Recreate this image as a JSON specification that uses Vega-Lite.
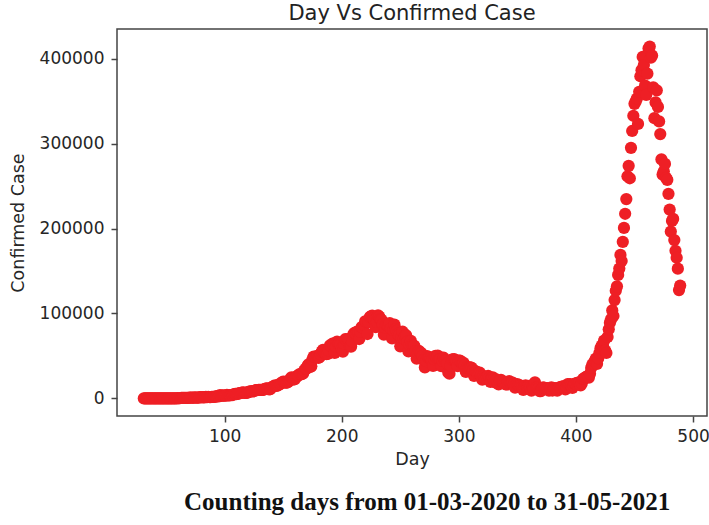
{
  "$schema": "https://vega.github.io/schema/vega-lite/v6.json",
  "padding": {"left": 8, "top": 2, "right": 0, "bottom": 0},
  "background": "white",
  "title": {"text": "Counting days from 01-03-2020 to 31-05-2021", "orient": "bottom", "font": "Liberation Serif", "fontSize": 25, "fontWeight": "bold", "color": "#111111", "anchor": "middle", "dx": 68, "offset": 22},
  "config": {
    "view": {"stroke": "#444444", "strokeWidth": 1.5},
    "axis": {"grid": false, "domain": false, "ticks": true, "tickSize": 6, "tickWidth": 1.5, "tickColor": "#444444", "labelFont": "DejaVu Sans", "labelFontSize": 17, "labelColor": "#262626", "labelFlush": false, "titleFont": "DejaVu Sans", "titleFontSize": 17.5, "titleFontWeight": "normal", "titleColor": "#262626"},
    "axisX": {"labelPadding": 6, "titlePadding": 6},
    "axisY": {"labelPadding": 7, "titlePadding": 12}
  },
  "vconcat": [{
    "width": 590,
    "height": 387,
    "title": {"text": "Day Vs Confirmed Case", "font": "DejaVu Sans", "fontSize": 21, "fontWeight": "normal", "color": "#222222", "offset": 5},
    "data": {"values": [
{"Day":31,"Cases":0},{"Day":32,"Cases":2},{"Day":33,"Cases":1},{"Day":34,"Cases":22},{"Day":35,"Cases":1},{"Day":36,"Cases":2},{"Day":37,"Cases":3},{"Day":38,"Cases":5},{"Day":39,"Cases":4},{"Day":40,"Cases":15},{"Day":41,"Cases":10},{"Day":42,"Cases":11},{"Day":43,"Cases":9},{"Day":44,"Cases":20},{"Day":45,"Cases":11},{"Day":46,"Cases":23},{"Day":47,"Cases":15},{"Day":48,"Cases":28},{"Day":49,"Cases":59},{"Day":50,"Cases":52},{"Day":51,"Cases":80},{"Day":52,"Cases":67},{"Day":53,"Cases":103},{"Day":54,"Cases":37},{"Day":55,"Cases":121},{"Day":56,"Cases":70},{"Day":57,"Cases":160},{"Day":58,"Cases":100},{"Day":59,"Cases":65},{"Day":60,"Cases":227},{"Day":61,"Cases":146},
{"Day":62,"Cases":437},{"Day":63,"Cases":486},{"Day":64,"Cases":560},{"Day":65,"Cases":579},{"Day":66,"Cases":609},{"Day":67,"Cases":484},{"Day":68,"Cases":573},{"Day":69,"Cases":565},{"Day":70,"Cases":813},{"Day":71,"Cases":871},{"Day":72,"Cases":854},{"Day":73,"Cases":758},{"Day":74,"Cases":1243},{"Day":75,"Cases":1031},{"Day":76,"Cases":886},{"Day":77,"Cases":1061},{"Day":78,"Cases":922},{"Day":79,"Cases":1371},{"Day":80,"Cases":1580},{"Day":81,"Cases":1239},{"Day":82,"Cases":1537},{"Day":83,"Cases":1292},{"Day":84,"Cases":1667},{"Day":85,"Cases":1408},{"Day":86,"Cases":1835},{"Day":87,"Cases":1607},{"Day":88,"Cases":1568},{"Day":89,"Cases":1902},{"Day":90,"Cases":1705},{"Day":91,"Cases":1801},
{"Day":92,"Cases":1993},{"Day":93,"Cases":2293},{"Day":94,"Cases":2644},{"Day":95,"Cases":2487},{"Day":96,"Cases":3900},{"Day":97,"Cases":2958},{"Day":98,"Cases":3561},{"Day":99,"Cases":3390},{"Day":100,"Cases":3320},{"Day":101,"Cases":3277},{"Day":102,"Cases":4213},{"Day":103,"Cases":3604},{"Day":104,"Cases":3525},{"Day":105,"Cases":3722},{"Day":106,"Cases":3967},{"Day":107,"Cases":3970},{"Day":108,"Cases":4987},{"Day":109,"Cases":5242},{"Day":110,"Cases":4970},{"Day":111,"Cases":5611},{"Day":112,"Cases":5609},{"Day":113,"Cases":6088},{"Day":114,"Cases":6654},{"Day":115,"Cases":6767},{"Day":116,"Cases":6977},{"Day":117,"Cases":6535},{"Day":118,"Cases":6387},{"Day":119,"Cases":6566},{"Day":120,"Cases":7466},{"Day":121,"Cases":7964},{"Day":122,"Cases":8380},
{"Day":123,"Cases":8392},{"Day":124,"Cases":8171},{"Day":125,"Cases":8909},{"Day":126,"Cases":9304},{"Day":127,"Cases":9851},{"Day":128,"Cases":9887},{"Day":129,"Cases":9971},{"Day":130,"Cases":9983},{"Day":131,"Cases":9987},{"Day":132,"Cases":9985},{"Day":133,"Cases":9996},{"Day":134,"Cases":10956},{"Day":135,"Cases":11458},{"Day":136,"Cases":11929},{"Day":137,"Cases":11502},{"Day":138,"Cases":10667},{"Day":139,"Cases":10974},{"Day":140,"Cases":12881},{"Day":141,"Cases":13586},{"Day":142,"Cases":14516},{"Day":143,"Cases":15413},{"Day":144,"Cases":14821},{"Day":145,"Cases":14933},{"Day":146,"Cases":15968},{"Day":147,"Cases":16922},{"Day":148,"Cases":17296},{"Day":149,"Cases":18552},{"Day":150,"Cases":19906},{"Day":151,"Cases":19459},{"Day":152,"Cases":18522},
{"Day":153,"Cases":18653},{"Day":154,"Cases":19148},{"Day":155,"Cases":20903},{"Day":156,"Cases":22771},{"Day":157,"Cases":24850},{"Day":158,"Cases":24248},{"Day":159,"Cases":22252},{"Day":160,"Cases":22752},{"Day":161,"Cases":24879},{"Day":162,"Cases":26506},{"Day":163,"Cases":27114},{"Day":164,"Cases":28637},{"Day":165,"Cases":28701},{"Day":166,"Cases":28498},{"Day":167,"Cases":29429},{"Day":168,"Cases":32695},{"Day":169,"Cases":34956},{"Day":170,"Cases":34884},{"Day":171,"Cases":38902},{"Day":172,"Cases":40425},{"Day":173,"Cases":37148},{"Day":174,"Cases":37724},{"Day":175,"Cases":45720},{"Day":176,"Cases":49310},{"Day":177,"Cases":48916},{"Day":178,"Cases":48661},{"Day":179,"Cases":49931},{"Day":180,"Cases":47704},{"Day":181,"Cases":48513},{"Day":182,"Cases":52123},{"Day":183,"Cases":55078},
{"Day":184,"Cases":57118},{"Day":185,"Cases":54735},{"Day":186,"Cases":52972},{"Day":187,"Cases":52050},{"Day":188,"Cases":52509},{"Day":189,"Cases":56282},{"Day":190,"Cases":62538},{"Day":191,"Cases":61537},{"Day":192,"Cases":64399},{"Day":193,"Cases":62064},{"Day":194,"Cases":53601},{"Day":195,"Cases":60963},{"Day":196,"Cases":66999},{"Day":197,"Cases":64553},{"Day":198,"Cases":65002},{"Day":199,"Cases":63490},{"Day":200,"Cases":57981},{"Day":201,"Cases":55079},{"Day":202,"Cases":64531},{"Day":203,"Cases":69652},{"Day":204,"Cases":68898},{"Day":205,"Cases":69878},{"Day":206,"Cases":69239},{"Day":207,"Cases":61408},{"Day":208,"Cases":60975},{"Day":209,"Cases":67151},{"Day":210,"Cases":75760},{"Day":211,"Cases":77266},{"Day":212,"Cases":76472},{"Day":213,"Cases":78761},{"Day":214,"Cases":78512},
{"Day":215,"Cases":69921},{"Day":216,"Cases":78357},{"Day":217,"Cases":83883},{"Day":218,"Cases":83341},{"Day":219,"Cases":86432},{"Day":220,"Cases":90632},{"Day":221,"Cases":90802},{"Day":222,"Cases":75809},{"Day":223,"Cases":89706},{"Day":224,"Cases":95735},{"Day":225,"Cases":96551},{"Day":226,"Cases":97570},{"Day":227,"Cases":94372},{"Day":228,"Cases":92071},{"Day":229,"Cases":83809},{"Day":230,"Cases":90123},{"Day":231,"Cases":97894},{"Day":232,"Cases":96424},{"Day":233,"Cases":93337},{"Day":234,"Cases":92605},{"Day":235,"Cases":86961},{"Day":236,"Cases":75083},{"Day":237,"Cases":83347},{"Day":238,"Cases":86508},{"Day":239,"Cases":86052},{"Day":240,"Cases":85362},{"Day":241,"Cases":88600},{"Day":242,"Cases":82170},{"Day":243,"Cases":70589},{"Day":244,"Cases":80472},
{"Day":245,"Cases":86821},{"Day":246,"Cases":81484},{"Day":247,"Cases":79476},{"Day":248,"Cases":75829},{"Day":249,"Cases":74442},{"Day":250,"Cases":61267},{"Day":251,"Cases":72049},{"Day":252,"Cases":78524},{"Day":253,"Cases":70496},{"Day":254,"Cases":73272},{"Day":255,"Cases":74383},{"Day":256,"Cases":66732},{"Day":257,"Cases":55342},{"Day":258,"Cases":63509},{"Day":259,"Cases":67708},{"Day":260,"Cases":63371},{"Day":261,"Cases":62212},{"Day":262,"Cases":61871},{"Day":263,"Cases":55722},{"Day":264,"Cases":46790},{"Day":265,"Cases":54044},{"Day":266,"Cases":55839},{"Day":267,"Cases":54366},{"Day":268,"Cases":53370},{"Day":269,"Cases":50129},{"Day":270,"Cases":45149},{"Day":271,"Cases":36469},{"Day":272,"Cases":43893},{"Day":273,"Cases":49881},{"Day":274,"Cases":48648},{"Day":275,"Cases":48268},
{"Day":276,"Cases":46963},{"Day":277,"Cases":45231},{"Day":278,"Cases":38310},{"Day":279,"Cases":46253},{"Day":280,"Cases":50209},{"Day":281,"Cases":47638},{"Day":282,"Cases":50357},{"Day":283,"Cases":45674},{"Day":284,"Cases":45903},{"Day":285,"Cases":38074},{"Day":286,"Cases":44281},{"Day":287,"Cases":47905},{"Day":288,"Cases":44879},{"Day":289,"Cases":44684},{"Day":290,"Cases":41100},{"Day":291,"Cases":30548},{"Day":292,"Cases":29164},{"Day":293,"Cases":38617},{"Day":294,"Cases":45576},{"Day":295,"Cases":45882},{"Day":296,"Cases":46232},{"Day":297,"Cases":45209},{"Day":298,"Cases":44059},{"Day":299,"Cases":37975},{"Day":300,"Cases":44376},{"Day":301,"Cases":44489},{"Day":302,"Cases":43082},{"Day":303,"Cases":41322},{"Day":304,"Cases":41810},{"Day":305,"Cases":38772},
{"Day":306,"Cases":31118},{"Day":307,"Cases":36604},{"Day":308,"Cases":35551},{"Day":309,"Cases":36595},{"Day":310,"Cases":36652},{"Day":311,"Cases":36011},{"Day":312,"Cases":32981},{"Day":313,"Cases":26567},{"Day":314,"Cases":32080},{"Day":315,"Cases":31522},{"Day":316,"Cases":29398},{"Day":317,"Cases":30006},{"Day":318,"Cases":30254},{"Day":319,"Cases":27071},{"Day":320,"Cases":22065},{"Day":321,"Cases":26382},{"Day":322,"Cases":24010},{"Day":323,"Cases":22890},{"Day":324,"Cases":25153},{"Day":325,"Cases":26624},{"Day":326,"Cases":24337},{"Day":327,"Cases":19556},{"Day":328,"Cases":23950},{"Day":329,"Cases":24712},{"Day":330,"Cases":23068},{"Day":331,"Cases":18732},{"Day":332,"Cases":22273},{"Day":333,"Cases":18732},{"Day":334,"Cases":16432},{"Day":335,"Cases":20550},{"Day":336,"Cases":21822},
{"Day":337,"Cases":20035},{"Day":338,"Cases":19079},{"Day":339,"Cases":18177},{"Day":340,"Cases":16504},{"Day":341,"Cases":16375},{"Day":342,"Cases":18088},{"Day":343,"Cases":20346},{"Day":344,"Cases":18139},{"Day":345,"Cases":18222},{"Day":346,"Cases":18645},{"Day":347,"Cases":16311},{"Day":348,"Cases":12584},{"Day":349,"Cases":15968},{"Day":350,"Cases":16946},{"Day":351,"Cases":15590},{"Day":352,"Cases":15158},{"Day":353,"Cases":15144},{"Day":354,"Cases":13788},{"Day":355,"Cases":10064},{"Day":356,"Cases":13823},{"Day":357,"Cases":15223},{"Day":358,"Cases":14545},{"Day":359,"Cases":14256},{"Day":360,"Cases":14849},{"Day":361,"Cases":13203},{"Day":362,"Cases":9102},{"Day":363,"Cases":12689},{"Day":364,"Cases":11666},{"Day":365,"Cases":18855},{"Day":366,"Cases":13083},{"Day":367,"Cases":13052},
{"Day":368,"Cases":11427},{"Day":369,"Cases":8635},{"Day":370,"Cases":8635},{"Day":371,"Cases":11039},{"Day":372,"Cases":12899},{"Day":373,"Cases":12408},{"Day":374,"Cases":11713},{"Day":375,"Cases":12059},{"Day":376,"Cases":11831},{"Day":377,"Cases":9110},{"Day":378,"Cases":11067},{"Day":379,"Cases":12923},{"Day":380,"Cases":9309},{"Day":381,"Cases":12143},{"Day":382,"Cases":12194},{"Day":383,"Cases":11649},{"Day":384,"Cases":9121},{"Day":385,"Cases":11610},{"Day":386,"Cases":12881},{"Day":387,"Cases":13193},{"Day":388,"Cases":13993},{"Day":389,"Cases":14264},{"Day":390,"Cases":14199},{"Day":391,"Cases":10584},{"Day":392,"Cases":13742},{"Day":393,"Cases":16738},{"Day":394,"Cases":16577},{"Day":395,"Cases":16752},
{"Day":396,"Cases":15510},{"Day":397,"Cases":12286},{"Day":398,"Cases":14989},{"Day":399,"Cases":17407},{"Day":400,"Cases":16838},{"Day":401,"Cases":18327},{"Day":402,"Cases":18711},{"Day":403,"Cases":18599},{"Day":404,"Cases":15388},{"Day":405,"Cases":17921},{"Day":406,"Cases":22854},{"Day":407,"Cases":23285},{"Day":408,"Cases":24882},{"Day":409,"Cases":25320},{"Day":410,"Cases":26291},{"Day":411,"Cases":24492},{"Day":412,"Cases":28903},{"Day":413,"Cases":35871},{"Day":414,"Cases":39726},{"Day":415,"Cases":40953},{"Day":416,"Cases":43846},{"Day":417,"Cases":46951},{"Day":418,"Cases":40715},{"Day":419,"Cases":47262},{"Day":420,"Cases":53476},{"Day":421,"Cases":59118},{"Day":422,"Cases":62258},{"Day":423,"Cases":62714},{"Day":424,"Cases":68020},{"Day":425,"Cases":56211},{"Day":426,"Cases":53480},
{"Day":427,"Cases":72330},{"Day":428,"Cases":81466},{"Day":429,"Cases":89129},{"Day":430,"Cases":93249},{"Day":431,"Cases":103558},{"Day":432,"Cases":96982},{"Day":433,"Cases":115736},{"Day":434,"Cases":126789},{"Day":435,"Cases":131968},{"Day":436,"Cases":145384},{"Day":437,"Cases":152879},{"Day":438,"Cases":168912},{"Day":439,"Cases":161736},{"Day":440,"Cases":184372},{"Day":441,"Cases":200739},{"Day":442,"Cases":217353},{"Day":443,"Cases":234692},{"Day":444,"Cases":261500},{"Day":445,"Cases":273810},{"Day":446,"Cases":259170},{"Day":447,"Cases":295041},{"Day":448,"Cases":314835},{"Day":449,"Cases":332730},{"Day":450,"Cases":346786},{"Day":451,"Cases":349691},{"Day":452,"Cases":352991},{"Day":453,"Cases":323144},{"Day":454,"Cases":360960},{"Day":455,"Cases":379257},{"Day":456,"Cases":386452},
{"Day":457,"Cases":401993},{"Day":458,"Cases":392488},{"Day":459,"Cases":368147},{"Day":460,"Cases":357229},{"Day":461,"Cases":382315},{"Day":462,"Cases":412262},{"Day":463,"Cases":414188},{"Day":464,"Cases":401078},{"Day":465,"Cases":403738},{"Day":466,"Cases":366161},{"Day":467,"Cases":329942},{"Day":468,"Cases":348421},{"Day":469,"Cases":362727},{"Day":470,"Cases":343144},{"Day":471,"Cases":326098},{"Day":472,"Cases":311170},{"Day":473,"Cases":281386},{"Day":474,"Cases":263533},{"Day":475,"Cases":267334},{"Day":476,"Cases":276070},{"Day":477,"Cases":259551},{"Day":478,"Cases":257299},{"Day":479,"Cases":240842},{"Day":480,"Cases":222315},{"Day":481,"Cases":196427},{"Day":482,"Cases":208921},{"Day":483,"Cases":211298},{"Day":484,"Cases":186364},{"Day":485,"Cases":173790},{"Day":486,"Cases":165553},{"Day":487,"Cases":152734},{"Day":488,"Cases":127510},{"Day":489,"Cases":132788}
    ]},
    "mark": {"type": "point", "filled": true, "size": 150, "color": "#ee1f25", "opacity": 1},
    "encoding": {
      "x": {"field": "Day", "type": "quantitative", "scale": {"domain": [8.1, 511.9], "nice": false, "zero": false}, "axis": {"values": [100, 200, 300, 400, 500], "title": "Day"}},
      "y": {"field": "Cases", "type": "quantitative", "scale": {"domain": [-20709, 434897], "nice": false, "zero": false}, "axis": {"values": [0, 100000, 200000, 300000, 400000], "format": "d", "title": "Confirmed Case"}}
    }
  }]
}
